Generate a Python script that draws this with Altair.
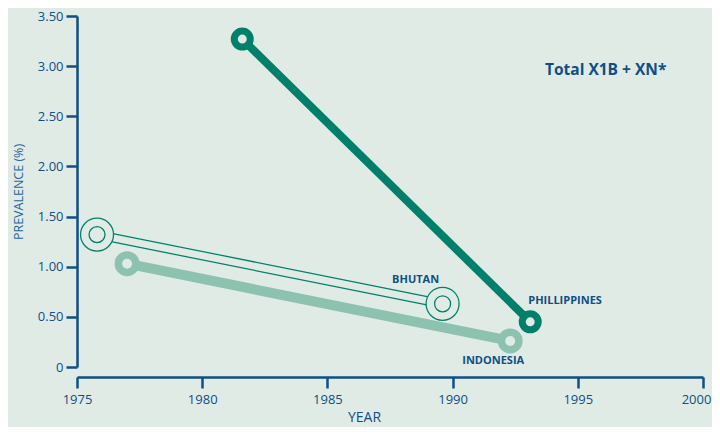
import altair as alt
import pandas as pd

# ---- data ----
countries = ["BHUTAN", "INDONESIA", "PHILLIPPINES"]
start_year = [1975.8, 1977.0, 1981.6]
start_val = [1.32, 1.03, 3.27]
end_year = [1989.6, 1992.3, 1993.1]
end_val = [0.63, 0.26, 0.45]

x_ticks = [1975, 1980, 1985, 1990, 1995, 2000]
y_ticks = [0, 0.5, 1.0, 1.5, 2.0, 2.5, 3.0, 3.5]
title_text = "Total X1B + XN*"

BG = "#E0EBE5"
TEAL = "#00806A"
LIGHT = "#8EC2B0"
BLUE = "#0E4F87"
FONT = "Open Sans"

rows = []
for c, sy, sv, ey, ev in zip(countries, start_year, start_val, end_year, end_val):
    rows.append({"country": c, "year": sy, "val": sv, "pt": "start"})
    rows.append({"country": c, "year": ey, "val": ev, "pt": "end"})
df = pd.DataFrame(rows)

xs = alt.Scale(domain=[1975, 2000], nice=False, zero=False)
ys = alt.Scale(domain=[0, 3.5], nice=False)

base = alt.Chart(df).encode(
    x=alt.X("year:Q", scale=xs, axis=alt.Axis(
        title="YEAR", values=x_ticks, format="d", offset=10, labelFlush=False,
        labelOffset=alt.condition("datum.value == 2000", alt.value(-7), alt.value(0)),
        domainColor=BLUE, domainWidth=2.5, tickColor=BLUE, tickWidth=2.5, tickSize=11,
        labelColor=BLUE, labelFont=FONT, labelFontSize=13, labelPadding=5,
        titleColor=BLUE, titleFont=FONT, titleFontSize=14, titleFontWeight="normal",
        titleX=287, titlePadding=4, grid=False)),
    y=alt.Y("val:Q", scale=ys, axis=alt.Axis(
        title="PREVALENCE (%)", values=y_ticks, labelFlush=False,
        labelExpr="datum.value == 0 ? '0' : format(datum.value, '.2f')",
        domainColor=BLUE, domainWidth=2.5, tickColor=BLUE, tickWidth=2.5, tickSize=11,
        labelColor=BLUE, labelFont=FONT, labelFontSize=13, labelPadding=3,
        titleColor="#2A66A0", titleFont=FONT, titleFontSize=12.5, titleFontWeight="normal",
        titlePadding=12, grid=False)),
    detail="country:N",
)

bh = base.transform_filter(alt.datum.country == "BHUTAN")
ind = base.transform_filter(alt.datum.country == "INDONESIA")
ph = base.transform_filter(alt.datum.country == "PHILLIPPINES")

bh_outer = bh.mark_line(color=TEAL, strokeWidth=9.5, strokeCap="butt")
bh_inner = bh.mark_line(color=BG, strokeWidth=7, strokeCap="butt")
ind_line = ind.mark_line(color=LIGHT, strokeWidth=10, strokeCap="butt")
ph_line = ph.mark_line(color=TEAL, strokeWidth=8, strokeCap="butt")

bh_pt_outer = bh.mark_point(shape="circle", filled=True, fill=BG, stroke=TEAL,
                            strokeWidth=1.3, size=1089, opacity=1)
bh_pt_inner = bh.mark_point(shape="circle", filled=False, stroke=TEAL,
                            strokeWidth=1.3, size=256, opacity=1)
ind_pt = ind.mark_point(shape="circle", filled=True, fill=BG, stroke=LIGHT,
                        strokeWidth=7.5, size=306, opacity=1)
ph_pt = ph.mark_point(shape="circle", filled=True, fill=BG, stroke=TEAL,
                      strokeWidth=7, size=256, opacity=1)

lab = dict(font=FONT, fontSize=11, fontWeight="bold", color=BLUE, baseline="middle")
bh_lab = bh.transform_filter(alt.datum.pt == "end").mark_text(
    align="center", dx=-27, dy=-24, **lab).encode(text="country:N")
ind_lab = ind.transform_filter(alt.datum.pt == "end").mark_text(
    align="center", dx=-17, dy=20, **lab).encode(text="country:N")
ph_lab = ph.transform_filter(alt.datum.pt == "end").mark_text(
    align="left", dx=-2, dy=-21, **lab).encode(text="country:N")

title = alt.Chart(pd.DataFrame({"t": [title_text]})).mark_text(
    align="left", baseline="middle", font=FONT, fontSize=15.5, fontWeight="bold", color=BLUE
).encode(text="t:N", x=alt.value(468), y=alt.value(54))

chart = alt.layer(
    bh_outer, bh_inner, ind_line, ph_line,
    bh_pt_outer, bh_pt_inner, ind_pt, ph_pt,
    bh_lab, ind_lab, ph_lab, title,
).properties(
    width=626, height=351,
    autosize=alt.AutoSizeParams(type="none"),
    padding={"left": 69, "top": 8, "right": 9, "bottom": 60},
    background=BG,
).configure_view(stroke=None)

chart.save("out.html", embed_options={"renderer": "svg", "actions": False})
